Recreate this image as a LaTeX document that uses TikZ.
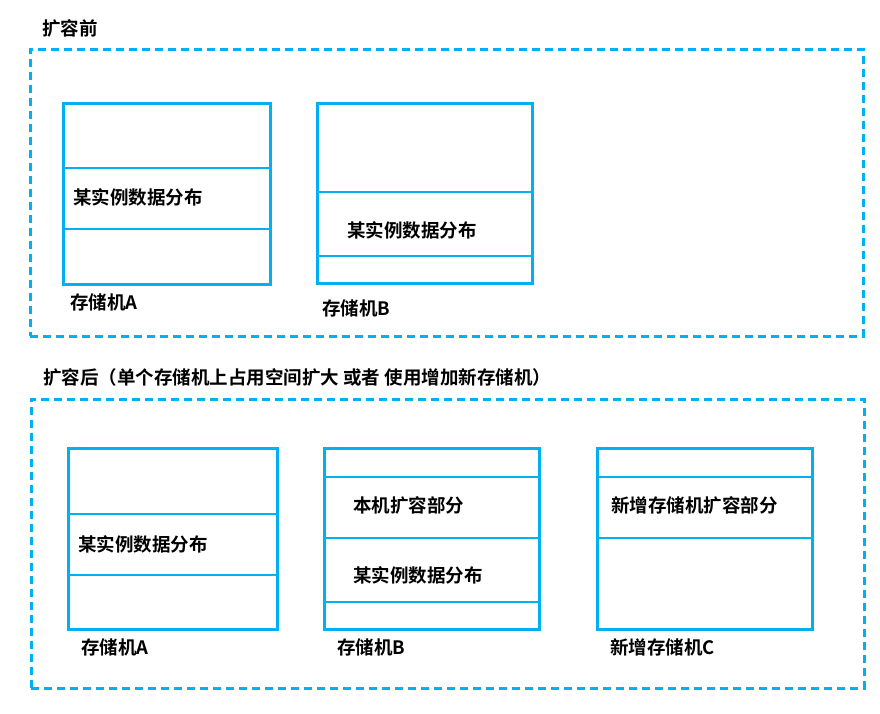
\documentclass[tikz,border=0pt]{standalone}
\usepackage{fontspec}
\setmainfont{Noto Sans CJK SC}[BoldFont={Noto Sans CJK SC Bold}]
\definecolor{cy}{HTML}{00B0F0}
\begin{document}
\begin{tikzpicture}[x=1pt,y=-1pt,
  frame/.style={draw=cy,line width=2.6pt,dash pattern=on 8pt off 5pt,inner sep=0pt,anchor=north west},
  store/.style={draw=cy,line width=2.6pt,inner sep=0pt,anchor=north west},
  divider/.style={draw=cy,line width=2.6pt},
  lbl/.style={font=\fontsize{18.5}{21}\selectfont\bfseries,anchor=west,inner sep=0pt,text=black}]
\useasboundingbox (0,0) rectangle (880,714);
% ---- before
\node[lbl] (t1) at (42,28) {扩容前};
\node[frame,minimum width=833pt,minimum height=287pt] (F1) at (29,48) {};
\node[store,minimum width=207pt,minimum height=181pt] (A1) at (62,102) {};
\draw[divider] (A1.west |- 0,168) -- (A1.east |- 0,168);
\draw[divider] (A1.west |- 0,229) -- (A1.east |- 0,229);
\node[lbl] (A1d) at (73,197) {某实例数据分布};
\node[lbl] (A1n) at (70,302) {存储机A};
\node[store,minimum width=215pt,minimum height=180pt] (B1) at (316,102) {};
\draw[divider] (B1.west |- 0,192) -- (B1.east |- 0,192);
\draw[divider] (B1.west |- 0,256) -- (B1.east |- 0,256);
\node[lbl] (B1d) at (347,230) {某实例数据分布};
\node[lbl] (B1n) at (322,308) {存储机B};
% ---- after
\node[lbl] (t2) at (43,377) {扩容后（单个存储机上占用空间扩大 或者 使用增加新存储机）};
\node[frame,minimum width=833pt,minimum height=289pt] (F2) at (30,398) {};
\node[store,minimum width=209pt,minimum height=181pt] (A2) at (67,447) {};
\draw[divider] (A2.west |- 0,514) -- (A2.east |- 0,514);
\draw[divider] (A2.west |- 0,575) -- (A2.east |- 0,575);
\node[lbl] (A2d) at (78,544) {某实例数据分布};
\node[lbl] (A2n) at (81,647) {存储机A};
\node[store,minimum width=215pt,minimum height=181pt] (B2) at (323,447) {};
\draw[divider] (B2.west |- 0,477) -- (B2.east |- 0,477);
\draw[divider] (B2.west |- 0,538) -- (B2.east |- 0,538);
\draw[divider] (B2.west |- 0,602) -- (B2.east |- 0,602);
\node[lbl] (B2e) at (353,505) {本机扩容部分};
\node[lbl] (B2d) at (353,575) {某实例数据分布};
\node[lbl] (B2n) at (337,647) {存储机B};
\node[store,minimum width=215pt,minimum height=181pt] (C2) at (596,447) {};
\draw[divider] (C2.west |- 0,477) -- (C2.east |- 0,477);
\draw[divider] (C2.west |- 0,538) -- (C2.east |- 0,538);
\node[lbl] (C2e) at (611,505) {新增存储机扩容部分};
\node[lbl] (C2n) at (610,647) {新增存储机C};
\end{tikzpicture}
\end{document}
